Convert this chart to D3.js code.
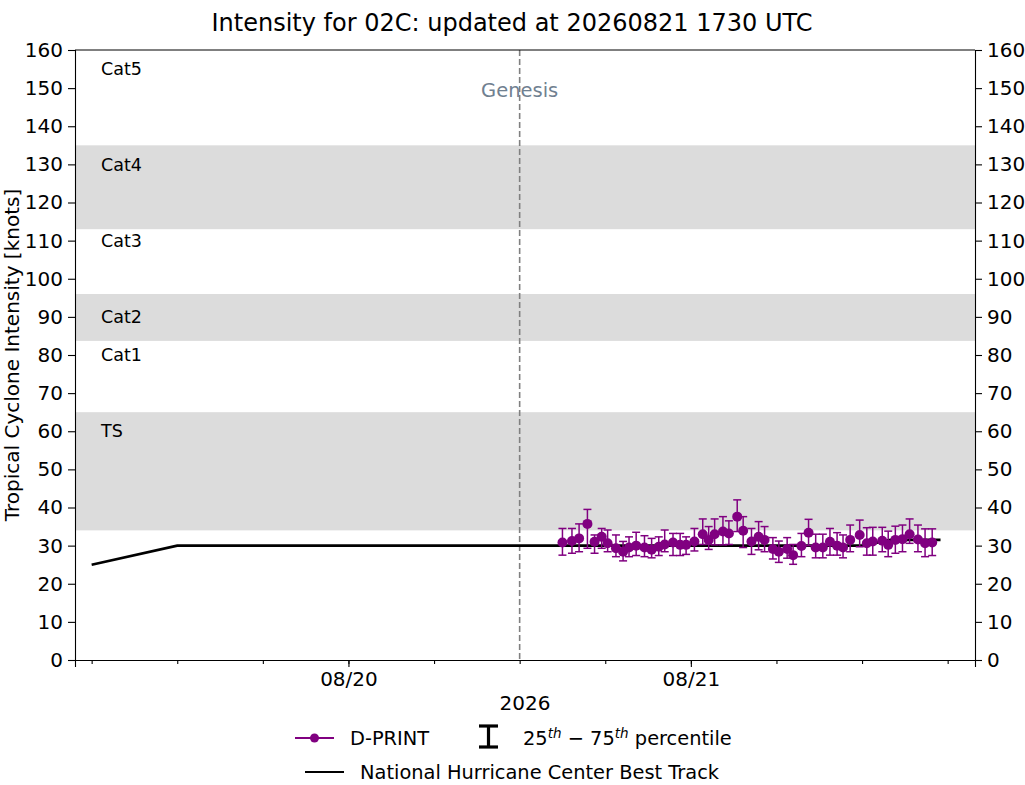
<!DOCTYPE html>
<html>
<head>
<meta charset="utf-8">
<script src="https://cdn.jsdelivr.net/npm/d3@7"></script>
<style>
  body { margin: 0; background: #fff; }
  text { font-family: "DejaVu Sans", sans-serif; }
</style>
</head>
<body>
<div id="chart"></div>
<script>
// Data
var titleText = "Intensity for 02C: updated at 20260821 1730 UTC";

var bestTrackTimes = ["2026-08-19 06:00", "2026-08-19 12:00", "2026-08-21 12:00", "2026-08-21 14:00", "2026-08-21 17:30"];
var bestTrackKnots = [25, 30, 30, 31.5, 31.5];

var dprintTimes = [
  "2026-08-20 15:00", "2026-08-20 15:40", "2026-08-20 16:10", "2026-08-20 16:45", "2026-08-20 17:15",
  "2026-08-20 17:45", "2026-08-20 18:10", "2026-08-20 18:45", "2026-08-20 19:15", "2026-08-20 19:40",
  "2026-08-20 20:10", "2026-08-20 20:45", "2026-08-20 21:15", "2026-08-20 21:45", "2026-08-20 22:10",
  "2026-08-20 22:45", "2026-08-20 23:15", "2026-08-20 23:40", "2026-08-21 00:15", "2026-08-21 00:50",
  "2026-08-21 01:15", "2026-08-21 01:40", "2026-08-21 02:15", "2026-08-21 02:40", "2026-08-21 03:15",
  "2026-08-21 03:40", "2026-08-21 04:15", "2026-08-21 04:45", "2026-08-21 05:10", "2026-08-21 05:45",
  "2026-08-21 06:10", "2026-08-21 06:45", "2026-08-21 07:10", "2026-08-21 07:45", "2026-08-21 08:15",
  "2026-08-21 08:45", "2026-08-21 09:15", "2026-08-21 09:45", "2026-08-21 10:15", "2026-08-21 10:40",
  "2026-08-21 11:10", "2026-08-21 11:50", "2026-08-21 12:20", "2026-08-21 12:45", "2026-08-21 13:25",
  "2026-08-21 13:50", "2026-08-21 14:20", "2026-08-21 14:50", "2026-08-21 15:20", "2026-08-21 15:55",
  "2026-08-21 16:25", "2026-08-21 16:55"
];
var dprintMedian = [
  30.8, 31.2, 31.9, 35.7, 31.0, 32.3, 30.6, 29.3, 28.4, 29.5,
  30.0, 29.5, 28.9, 29.7, 30.3, 30.8, 30.2, 30.2, 31.1, 33.0,
  31.5, 33.0, 33.7, 33.2, 37.6, 33.9, 31.1, 32.3, 31.5, 29.1,
  28.4, 29.1, 27.5, 29.9, 33.4, 29.5, 29.5, 31.0, 30.0, 29.5,
  31.5, 32.8, 30.6, 31.1, 31.3, 30.2, 31.5, 31.7, 33.0, 31.6,
  30.6, 30.8
];
var dprintP25 = [
  27.5, 28.0, 28.4, 29.3, 28.0, 29.3, 28.4, 27.1, 26.0, 27.1,
  27.4, 27.1, 26.8, 27.4, 28.4, 27.4, 27.4, 27.7, 28.6, 30.3,
  29.0, 30.2, 30.2, 30.3, 33.7, 29.5, 27.7, 28.9, 28.4, 26.5,
  25.6, 26.7, 25.1, 27.1, 30.0, 26.8, 26.8, 27.5, 27.5, 26.8,
  28.4, 29.7, 27.5, 27.5, 28.4, 27.1, 28.0, 28.4, 30.6, 28.4,
  27.1, 27.4
];
var dprintP75 = [
  34.5, 34.5, 35.7, 39.5, 32.8, 34.5, 34.1, 32.8, 31.1, 32.3,
  33.5, 32.6, 31.9, 32.3, 34.1, 33.2, 33.2, 32.3, 34.5, 37.0,
  35.0, 37.0, 37.6, 36.5, 42.0, 37.6, 34.5, 36.3, 35.0, 32.1,
  31.2, 32.1, 30.3, 33.2, 36.9, 33.0, 33.0, 34.5, 33.4, 32.8,
  35.4, 36.7, 34.7, 34.8, 34.8, 33.8, 35.1, 35.4, 37.0, 35.4,
  34.4, 34.4
];

var genesisTime = "2026-08-20 12:00";
var xLimits = ["2026-08-19 04:50", "2026-08-21 19:55"];
var xTickDates = ["2026-08-20 00:00", "2026-08-21 00:00"];
var xTickLabels = ["08/20", "08/21"];
var yTicks = d3.range(0, 161, 10);

var bandLow = [34, 83.7, 113];
var bandHigh = [65, 96, 135];
var catNames = ["TS", "Cat1", "Cat2", "Cat3", "Cat4", "Cat5"];
var catLabelKnots = [60, 80, 90, 110, 130, 155];

// Set the dimensions and margins
var margin = {top: 50, right: 50, bottom: 125, left: 75},
    width = 1025 - margin.left - margin.right,
    height = 785 - margin.top - margin.bottom;

var purple = "#800080";
var parseTime = d3.utcParse("%Y-%m-%d %H:%M");

var root = d3.select("#chart")
  .append("svg")
    .attr("width", 1025)
    .attr("height", 785);

var svg = root.append("g")
    .attr("transform", "translate(" + margin.left + "," + margin.top + ")");

// Scales
var x = d3.scaleUtc()
  .domain(xLimits.map(parseTime))
  .range([0, width]);

var y = d3.scaleLinear()
  .domain([0, 160])
  .range([height, 0]);

// Category bands
svg.selectAll("rect.band")
  .data(bandLow)
  .enter()
  .append("rect")
    .attr("class", "band")
    .attr("x", 0)
    .attr("width", width)
    .attr("y", function(d, i) { return y(bandHigh[i]); })
    .attr("height", function(d, i) { return y(d) - y(bandHigh[i]); })
    .attr("fill", "#dcdcdc");

svg.selectAll("text.cat")
  .data(catNames)
  .enter()
  .append("text")
    .attr("class", "cat")
    .attr("x", 26)
    .attr("y", function(d, i) { return y(catLabelKnots[i]); })
    .attr("dy", "0.35em")
    .style("font-size", "17.5px")
    .text(function(d) { return d; });

// Genesis line
var gx = x(parseTime(genesisTime));
svg.append("line")
  .attr("x1", gx).attr("x2", gx)
  .attr("y1", 0).attr("y2", height)
  .attr("stroke", "#808080")
  .attr("stroke-width", 1.6)
  .attr("stroke-dasharray", "6,3");
svg.append("text")
  .attr("x", gx)
  .attr("y", y(149.5))
  .attr("dy", "0.35em")
  .attr("text-anchor", "middle")
  .attr("fill", "#708090")
  .style("font-size", "19.5px")
  .text("Genesis");

// Best track
var bt = bestTrackTimes.map(function(t, i) { return {t: parseTime(t), v: bestTrackKnots[i]}; });
svg.append("path")
  .datum(bt)
  .attr("fill", "none")
  .attr("stroke", "#000")
  .attr("stroke-width", 2.6)
  .attr("d", d3.line()
    .x(function(d) { return x(d.t); })
    .y(function(d) { return y(d.v); }));

// D-PRINT with 25-75 percentile bars
var dp = dprintTimes.map(function(t, i) {
  return {t: parseTime(t), v: dprintMedian[i], lo: dprintP25[i], hi: dprintP75[i]};
});

var bars = svg.selectAll("g.err")
  .data(dp)
  .enter()
  .append("g")
    .attr("class", "err")
    .attr("stroke", purple)
    .attr("stroke-width", 1.5);
bars.append("line")
  .attr("x1", function(d) { return x(d.t); })
  .attr("x2", function(d) { return x(d.t); })
  .attr("y1", function(d) { return y(d.lo); })
  .attr("y2", function(d) { return y(d.hi); });
bars.append("line")
  .attr("x1", function(d) { return x(d.t) - 4; })
  .attr("x2", function(d) { return x(d.t) + 4; })
  .attr("y1", function(d) { return y(d.lo); })
  .attr("y2", function(d) { return y(d.lo); });
bars.append("line")
  .attr("x1", function(d) { return x(d.t) - 4; })
  .attr("x2", function(d) { return x(d.t) + 4; })
  .attr("y1", function(d) { return y(d.hi); })
  .attr("y2", function(d) { return y(d.hi); });

svg.selectAll("circle.dp")
  .data(dp)
  .enter()
  .append("circle")
    .attr("class", "dp")
    .attr("cx", function(d) { return x(d.t); })
    .attr("cy", function(d) { return y(d.v); })
    .attr("r", 5)
    .attr("fill", purple);

// Axes
svg.append("g")
  .attr("transform", "translate(0," + height + ")")
  .call(d3.axisBottom(x)
    .tickValues(xTickDates.map(parseTime))
    .tickFormat(function(d, i) { return xTickLabels[i]; })
    .tickSize(7)
    .tickPadding(5));

// minor ticks every 6 hours
var minorTicks = d3.utcHour.every(6).range(x.domain()[0], x.domain()[1]);
svg.append("g")
  .attr("transform", "translate(0," + height + ")")
  .call(d3.axisBottom(x)
    .tickValues(minorTicks)
    .tickFormat("")
    .tickSize(4))
  .call(function(g) { g.select(".domain").remove(); });

svg.append("g")
  .call(d3.axisLeft(y).tickValues(yTicks).tickSize(7).tickPadding(5));
svg.append("g")
  .attr("transform", "translate(" + width + ",0)")
  .call(d3.axisRight(y).tickValues(yTicks).tickSize(7).tickPadding(5));

// top frame
svg.append("line")
  .attr("x1", 0).attr("x2", width)
  .attr("y1", 0).attr("y2", 0)
  .attr("stroke", "#000");

svg.selectAll(".tick text")
  .style("font-size", "20px")
  .attr("fill", "#000");
svg.selectAll(".domain, .tick line")
  .attr("stroke", "#000")
  .attr("stroke-width", 1.1);

// Labels
root.append("text")
  .attr("x", 512)
  .attr("y", 31)
  .attr("text-anchor", "middle")
  .style("font-size", "24px")
  .text(titleText);

root.append("text")
  .attr("transform", "translate(18.5," + (margin.top + height / 2) + ") rotate(-90)")
  .attr("text-anchor", "middle")
  .style("font-size", "20px")
  .text("Tropical Cyclone Intensity [knots]");

root.append("text")
  .attr("x", margin.left + width / 2)
  .attr("y", 710)
  .attr("text-anchor", "middle")
  .style("font-size", "20px")
  .text("2026");

// Legend
var legend = root.append("g");
legend.append("line")
  .attr("x1", 295).attr("x2", 334).attr("y1", 738).attr("y2", 738)
  .attr("stroke", purple).attr("stroke-width", 2);
legend.append("circle")
  .attr("cx", 314.5).attr("cy", 738).attr("r", 4.5)
  .attr("fill", purple);
legend.append("text")
  .attr("x", 350).attr("y", 745)
  .style("font-size", "19.4px")
  .text("D-PRINT");

var eb = legend.append("g").attr("stroke", "#000").attr("stroke-width", 3.2);
eb.append("line").attr("x1", 488.5).attr("x2", 488.5).attr("y1", 726).attr("y2", 747);
eb.append("line").attr("x1", 479).attr("x2", 498).attr("y1", 726).attr("y2", 726);
eb.append("line").attr("x1", 479).attr("x2", 498).attr("y1", 747).attr("y2", 747);

var pct = legend.append("text")
  .attr("x", 523).attr("y", 745)
  .style("font-size", "19.4px");
pct.append("tspan").text("25");
pct.append("tspan").attr("dy", -7).style("font-size", "13.5px").style("font-style", "italic").text("th");
pct.append("tspan").attr("dy", 7).text(" \u2212 75");
pct.append("tspan").attr("dy", -7).style("font-size", "13.5px").style("font-style", "italic").text("th");
pct.append("tspan").attr("dy", 7).text(" percentile");

legend.append("line")
  .attr("x1", 305).attr("x2", 344).attr("y1", 772).attr("y2", 772)
  .attr("stroke", "#000").attr("stroke-width", 2);
legend.append("text")
  .attr("x", 360).attr("y", 779)
  .style("font-size", "19.4px")
  .text("National Hurricane Center Best Track");
</script>
</body>
</html>
